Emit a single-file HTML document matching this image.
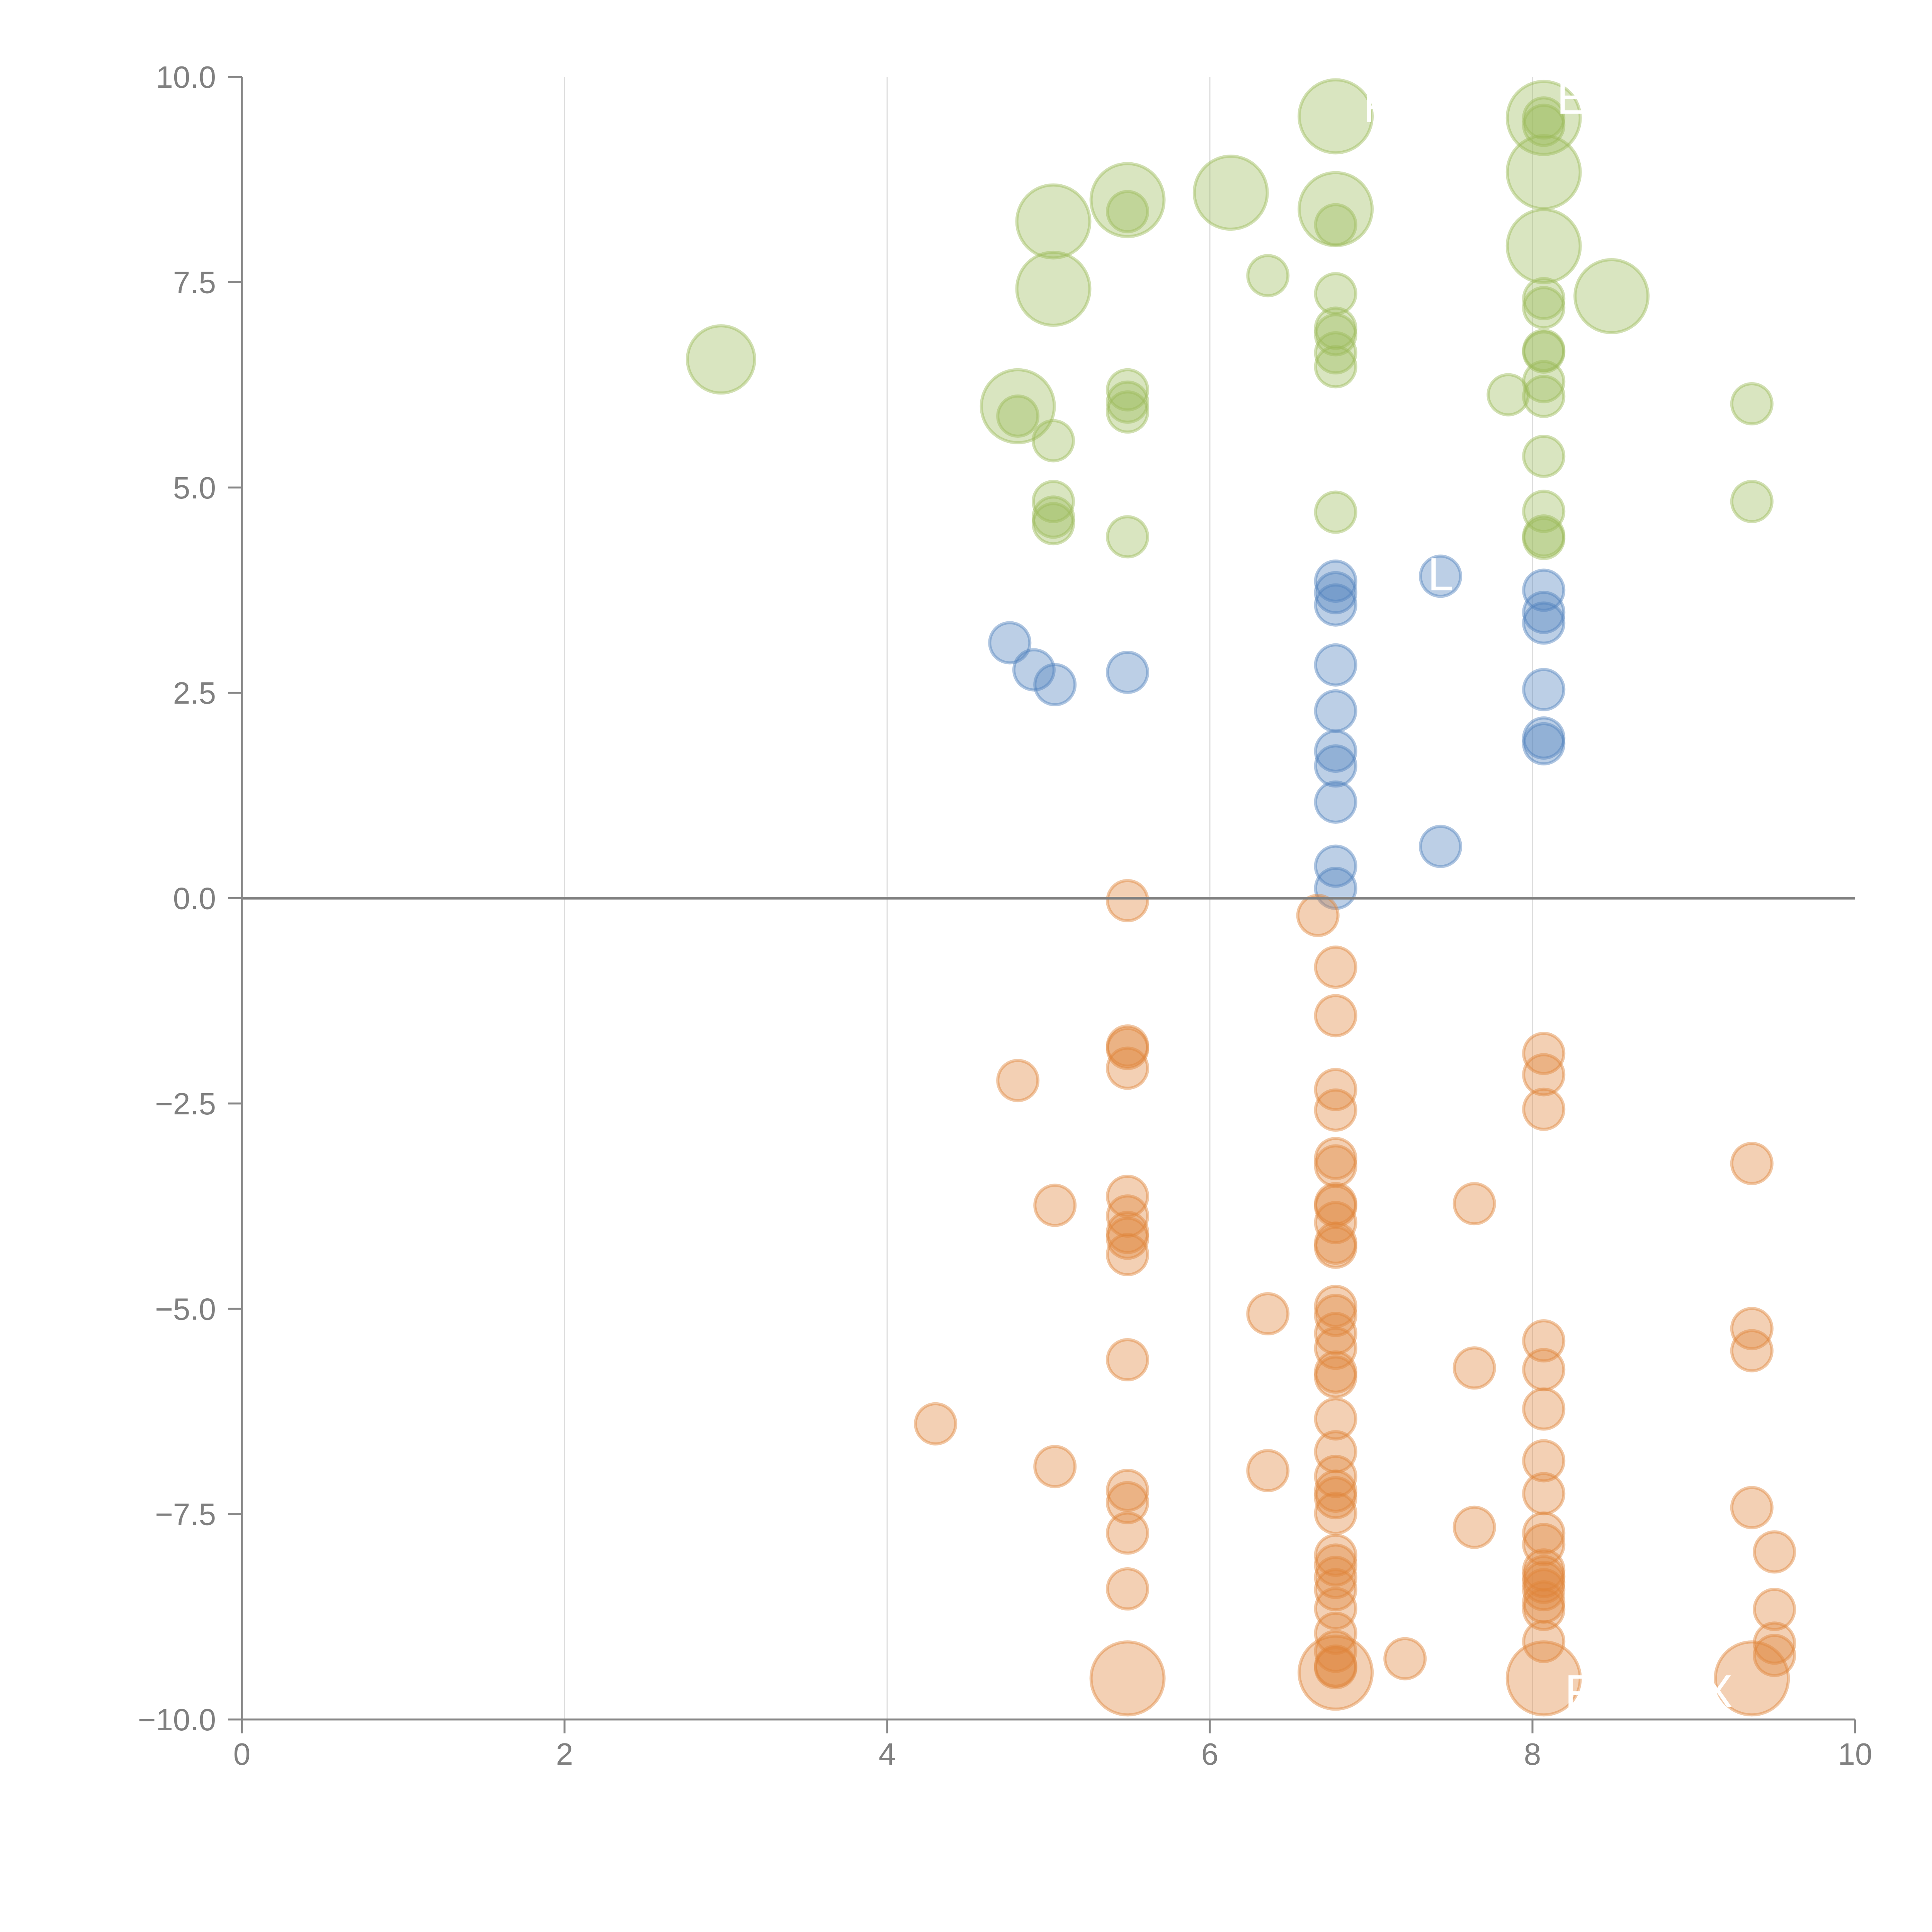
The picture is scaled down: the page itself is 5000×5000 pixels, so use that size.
<!DOCTYPE html>
<html><head><meta charset="utf-8"><style>
html,body{margin:0;padding:0;background:#fff;}
svg{display:block;font-family:"Liberation Sans",sans-serif;}
</style></head><body>
<svg id="chart" width="5000" height="5000" viewBox="0 0 5000 5000">
<rect width="5000" height="5000" fill="#fff"/>
<g id="grid"></g>
<g id="marks"></g>
<g id="axes"></g>
</svg>
<script>
const xTicks = [0, 2, 4, 6, 8, 10];
const xTickLabels = ["0", "2", "4", "6", "8", "10"];
const yTicks = [-10, -7.5, -5, -2.5, 0, 2.5, 5, 7.5, 10];
const yTickLabels = ["\u221210.0", "\u22127.5", "\u22125.0", "\u22122.5", "0.0", "2.5", "5.0", "7.5", "10.0"];

const greenX = [2.97,4.81,4.81,5.03,5.03,5.49,5.49,6.13,6.78,6.78,6.78,8.07,8.07,8.07,8.07,8.07,8.49,6.36,6.78,6.78,6.78,6.78,6.78,6.78,8.07,8.07,8.07,8.07,8.07,8.07,8.07,8.07,8.07,8.07,7.85,5.49,5.49,5.49,5.03,5.03,5.03,5.03,5.49,9.36,9.36];
const greenY = [6.56,5.99,5.87,8.24,7.42,8.50,8.36,8.59,9.52,8.39,8.20,9.50,9.50,9.41,8.84,7.94,7.33,7.58,7.36,6.94,6.86,6.64,6.47,4.70,7.30,7.19,6.67,6.65,6.29,6.11,5.38,4.71,4.41,4.38,6.13,6.19,6.04,5.92,5.57,4.83,4.64,4.56,4.40,6.02,4.83];
const greenS = [2.8,3.3,1,3.3,3.3,3.3,1,3.3,3.3,3.3,1,3.3,1,1,3.3,3.3,3.3,1,1,1,1,1,1,1,1,1,1,1,1,1,1,1,1,1,1,1,1,1,1,1,1,1,1,1,1];

const blueX = [4.76,4.91,5.04,5.49,6.78,6.78,6.78,6.78,6.78,6.78,6.78,6.78,6.78,6.78,7.43,7.43,8.07,8.07,8.07,8.07,8.07,8.07];
const blueY = [3.11,2.78,2.60,2.75,3.86,3.72,3.57,2.84,2.28,1.79,1.61,1.17,0.39,0.12,3.92,0.63,3.75,3.48,3.35,2.54,1.95,1.88];
const blueS = [1,1,1,1,1,1,1,1,1,1,1,1,1,1,1,1,1,1,1,1,1,1];

const orangeX = [5.49,6.67,6.78,6.78,5.49,5.49,5.49,4.81,6.78,6.78,6.78,6.78,6.78,6.78,6.78,6.78,6.78,8.07,8.07,8.07,9.36,7.64,5.04,5.49,5.49,5.49,5.49,5.49,6.36,6.78,6.78,6.78,6.78,6.78,6.78,6.78,6.78,6.78,6.78,6.78,6.78,5.49,7.64,8.07,8.07,8.07,8.07,8.07,8.07,8.07,8.07,8.07,8.07,8.07,8.07,8.07,8.07,9.36,9.36,9.36,9.50,9.50,9.50,9.50,4.30,5.04,6.36,5.49,5.49,5.49,5.49,7.64,6.78,6.78,6.78,6.78,6.78,6.78,6.78,6.78,6.78,7.21,5.49,6.78,8.07,9.36];
const orangeY = [-0.03,-0.21,-0.84,-1.43,-1.80,-1.83,-2.07,-2.22,-2.33,-2.58,-3.17,-3.26,-3.72,-3.75,-3.95,-4.20,-4.25,-1.89,-2.15,-2.57,-3.23,-3.72,-3.74,-3.63,-3.87,-4.07,-4.14,-4.34,-5.06,-4.97,-5.08,-5.30,-5.48,-5.77,-5.83,-6.34,-6.74,-7.04,-7.22,-7.30,-7.49,-5.62,-5.72,-5.39,-5.74,-6.22,-6.85,-7.25,-7.73,-7.87,-8.18,-8.26,-8.33,-8.42,-8.57,-8.66,-9.05,-5.24,-5.51,-7.42,-7.96,-8.66,-9.07,-9.22,-6.40,-6.92,-6.97,-7.21,-7.36,-7.73,-8.41,-7.66,-8.00,-8.12,-8.27,-8.42,-8.65,-8.95,-9.17,-9.35,-9.37,-9.26,-9.50,-9.43,-9.50,-9.50];
const orangeS = [1,1,1,1,1,1,1,1,1,1,1,1,1,1,1,1,1,1,1,1,1,1,1,1,1,1,1,1,1,1,1,1,1,1,1,1,1,1,1,1,1,1,1,1,1,1,1,1,1,1,1,1,1,1,1,1,1,1,1,1,1,1,1,1,1,1,1,1,1,1,1,1,1,1,1,1,1,1,1,1,1,1,3.3,3.3,3.3,3.3];

const X0 = 626, X1 = 4801, Y0 = 4450, Y1 = 199;
function sx(v){ return X0 + (v - 0) / 10 * (X1 - X0); }
function sy(v){ return Y0 - (v + 10) / 20 * (Y0 - Y1); }
function sr(s){ return 52 * Math.sqrt(s); }
const NS = "http://www.w3.org/2000/svg";
function mk(tag, attrs, parent){ const e = document.createElementNS(NS, tag); for (const k in attrs) e.setAttribute(k, attrs[k]); parent.appendChild(e); return e; }

const grid = document.getElementById("grid");
xTicks.forEach((t, i) => {
  if (t === 0 || t === 10) return;
  const l = mk("line", {x1: sx(t), x2: sx(t), y1: Y1, y2: Y0, stroke: "#dddddd", "stroke-width": 3}, grid);
  
  
});

const marks = document.getElementById("marks");
function drawSeries(xs, ys, ss, color, name){
  const g = mk("g", {}, marks);
  
  
  for (let i = 0; i < xs.length; i++) {
    const c = mk("circle", {cx: sx(xs[i]), cy: sy(ys[i]), r: sr(ss[i]), fill: color, "fill-opacity": 0.38, stroke: color, "stroke-opacity": 0.45, "stroke-width": 8}, g);
    
    
  }
}
drawSeries(greenX, greenY, greenS, "#9bbb59", "green");
drawSeries(blueX, blueY, blueS, "#4f81bd", "blue");
drawSeries(orangeX, orangeY, orangeS, "#e0843a", "orange");

const labelTexts = ["F", "E", "L", "P", "X"];
const labelX = [6.95, 8.15, 7.35, 8.2, 9.05];
const labelY = [9.45, 9.55, 3.75, -9.85, -9.85];
labelTexts.forEach((t, i) => {
  const tx = mk("text", {x: sx(labelX[i]), y: sy(labelY[i]), fill: "#ffffff", "font-size": 120}, marks);
  tx.textContent = t;
  
  
});

const axes = document.getElementById("axes");
const zl = mk("line", {x1: X0, x2: X1, y1: sy(0), y2: sy(0), stroke: "#808080", "stroke-width": 7}, axes);


const ya = mk("line", {x1: X0, x2: X0, y1: Y1, y2: Y0, stroke: "#888888", "stroke-width": 5}, axes);


const xa = mk("line", {x1: X0, x2: X1, y1: Y0, y2: Y0, stroke: "#888888", "stroke-width": 5}, axes);


yTicks.forEach((t, i) => {
  const tk = mk("line", {x1: X0 - 36, x2: X0, y1: sy(t), y2: sy(t), stroke: "#888888", "stroke-width": 5}, axes);
  
  
  const tx = mk("text", {x: 559, y: sy(t) + 28, "text-anchor": "end", fill: "#808080", "font-size": 80}, axes);
  tx.textContent = yTickLabels[i];
  
  
});
xTicks.forEach((t, i) => {
  const tk = mk("line", {x1: sx(t), x2: sx(t), y1: Y0, y2: Y0 + 36, stroke: "#888888", "stroke-width": 5}, axes);
  
  
  const tx = mk("text", {x: sx(t), y: 4567, "text-anchor": "middle", fill: "#808080", "font-size": 80}, axes);
  tx.textContent = xTickLabels[i];
  
  
});
</script>
</body></html>
